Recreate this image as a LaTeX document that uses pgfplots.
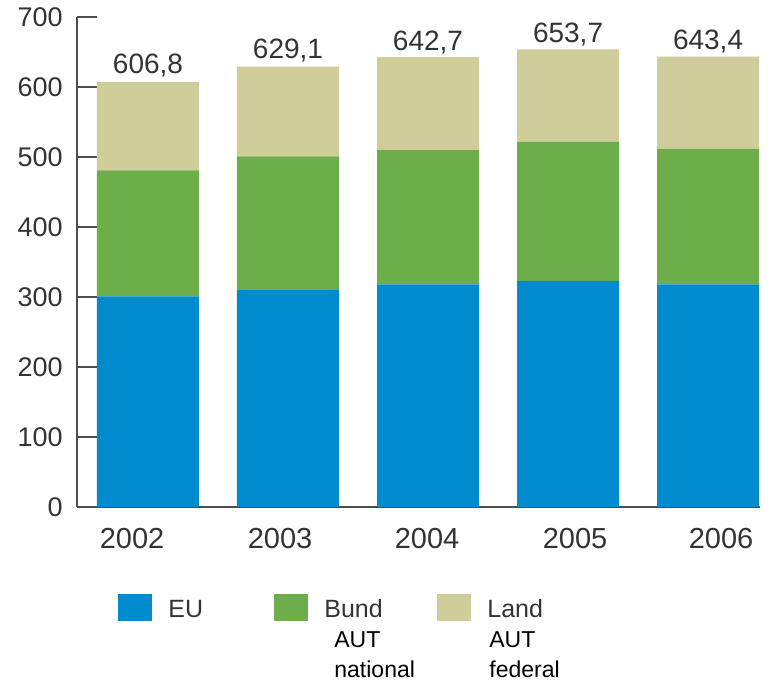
\documentclass[border=0pt]{standalone}
\usepackage{pgfplots}
\pgfplotsset{compat=1.18}
\usepackage{pgfplotstable}
\usepackage{fontspec}
\setmainfont{Liberation Sans}

\definecolor{eublue}{HTML}{008BCF}
\definecolor{bundgreen}{HTML}{6CAF4A}
\definecolor{landtan}{HTML}{CFCD99}
\definecolor{txtgray}{HTML}{333333}
\definecolor{axgray}{HTML}{4D4D4D}

% EU / Bund / Land per year, total as printed above the bar
\pgfplotstableread{
x eu bund land total
0 301 180 125.8 606.8
1 311 190 128.1 629.1
2 318 192 132.7 642.7
3 323 199 131.7 653.7
4 318 194 131.4 643.4
}\funds

\newcommand{\subfont}{\fontsize{11.5}{13}\selectfont\color{black}}
\newcommand{\legentry}[2]{\makebox[#1][l]{\smash{#2}}}
\newcommand{\legstack}[4]{\vtop{\baselineskip=15pt\hbox{#1}\hbox{\hspace*{#4}\subfont #2}\hbox{\hspace*{#4}\subfont #3}}}

\pgfplotsset{legbox/.style={legend image code/.code={\fill[##1] (0pt,-1pt) rectangle (17pt,12.5pt);}}}

\begin{document}
\begin{tikzpicture}
\path[use as bounding box] (-38.5pt,-88.5pt) rectangle (347pt,253.5pt);
\begin{axis}[
    at={(0,0)}, anchor=south west,
    scale only axis,
    width=341.5pt, height=245pt,
    ybar stacked,
    bar width=0.7286,
    xmin=-0.507, xmax=4.371,
    ymin=0, ymax=700,
    ytick={0,100,...,700},
    xtick={-0.114,0.943,1.993,3.05,4.093},
    xticklabels={2002,2003,2004,2005,2006},
    axis x line*=bottom, axis y line*=left,
    axis line style={-, axgray, line width=1pt},
    tick align=inside,
    major tick length=10pt,
    ytick style={axgray, line width=1pt},
    xtick style={draw=none},
    /pgf/number format/assume math mode=true,
    yticklabel style={font=\fontsize{13.5}{16}\selectfont, text=txtgray, inner sep=0pt, xshift=-7pt},
    xticklabel style={font=\fontsize{14.5}{17}\selectfont, text=txtgray, anchor=base, inner sep=0pt, yshift=-21pt},
    clip=false,
    legend columns=3,
    legend cell align=left,
    legend style={draw=none, fill=none, inner sep=0pt,
        at={(0,0)}, anchor=north west, xshift=20.5pt, yshift=-43.5pt,
        font=\fontsize{12.5}{15}\selectfont, text=txtgray,
        nodes={inner sep=0pt},
        /tikz/every odd column/.append style={column sep=8pt},
        /tikz/every even column/.append style={column sep=0pt}},
]
\addplot[fill=eublue, draw=none, legbox] table[x=x, y=eu] {\funds};
\addlegendentry{\legentry{53pt}{EU}}
\addplot[fill=bundgreen, draw=none, legbox] table[x=x, y=bund] {\funds};
\addlegendentry{\legentry{56.5pt}{\legstack{Bund}{AUT}{national}{5pt}}}
\addplot[fill=landtan, draw=none, legbox,
    point meta=explicit,
    nodes near coords={\pgfmathprintnumber[fixed, fixed zerofill, precision=1, use comma]{\pgfplotspointmeta}},
    every node near coord/.append style={font=\fontsize{14}{16}\selectfont, text=txtgray, inner sep=0pt, yshift=30.5pt}]
    table[x=x, y=land, meta=total] {\funds};
\addlegendentry{\legentry{40pt}{\legstack{Land}{AUT}{federal}{1pt}}}
\end{axis}
\end{tikzpicture}
\end{document}
